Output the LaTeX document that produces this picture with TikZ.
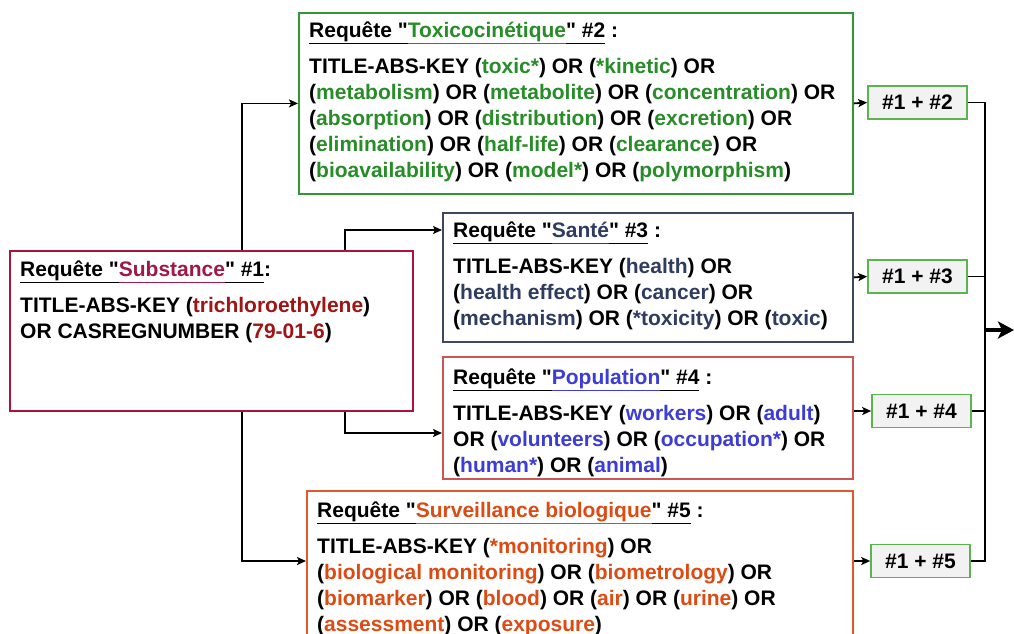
\documentclass[tikz,border=0pt]{standalone}
\usepackage{fontspec}
\setmainfont{Liberation Sans}[Ligatures=TeXOff]
\usetikzlibrary{arrows.meta}

\definecolor{grnT}{RGB}{40,140,40}
\definecolor{grnB}{RGB}{50,150,50}
\definecolor{subT}{RGB}{160,25,70}
\definecolor{subK}{RGB}{160,20,20}
\definecolor{subB}{RGB}{170,20,60}
\definecolor{sanT}{RGB}{45,60,95}
\definecolor{sanB}{RGB}{60,72,95}
\definecolor{popT}{RGB}{60,60,215}
\definecolor{popB}{RGB}{205,85,85}
\definecolor{surT}{RGB}{220,75,20}
\definecolor{surB}{RGB}{225,90,45}
\definecolor{resF}{RGB}{242,242,242}
\definecolor{resB}{RGB}{90,180,80}

% underline segments with a common depth
\newcommand\ulseg[1]{\underline{#1\vphantom{q}}}
\newcommand\reqtitle[3]{\ulseg{Requête "}\textcolor{#1}{\ulseg{#2}}\ulseg{" \##3}}
% a search keyword in parentheses
\newcommand\kwd[2]{(\textcolor{#1}{#2})}

\tikzset{
  qbox/.style={draw=#1, line width=1.8pt, fill=white, anchor=north west,
    inner sep=0pt, rectangle},
  qtext/.style={anchor=base west, inner sep=0pt,
    font=\fontsize{21}{26}\selectfont\bfseries},
  resbox/.style={draw=resB, fill=resF, line width=1.6pt, minimum width=99pt,
    minimum height=33pt, inner sep=0pt, font=\fontsize{21}{26}\selectfont\bfseries},
  conn/.style={line width=1.8pt, -{Stealth[length=9pt,width=8pt,inset=2pt]}},
  link/.style={line width=1.8pt},
  bigarrow/.style={line width=4pt, -{Stealth[length=16pt,width=17pt,inset=4pt]}}
}

\begin{document}
\begin{tikzpicture}[x=1pt,y=-1pt]
\useasboundingbox (0,0) rectangle (1014,633);
\clip (0,0) rectangle (1014,633);

% query boxes
\node[qbox=subB, minimum width=403pt, minimum height=160pt] (sub) at (9,250) {};
\node[qbox=grnB, minimum width=554pt, minimum height=181pt] (tox) at (298,12) {};
\node[qbox=sanB, minimum width=410pt, minimum height=129pt] (san) at (442,212) {};
\node[qbox=popB, minimum width=410pt, minimum height=122pt] (pop) at (442,356) {};
\node[qbox=surB, minimum width=546pt, minimum height=170pt] (sur) at (306,490) {};

% query texts
\node[qtext] (subtxt) at (20,276) {\begin{tabular}[t]{@{}l@{}}
\reqtitle{subT}{Substance}{1}:\\[10pt]
TITLE-ABS-KEY \kwd{subK}{trichloroethylene}\\
OR CASREGNUMBER \kwd{subK}{79-01-6}
\end{tabular}};

\node[qtext] (toxtxt) at (309,37) {\begin{tabular}[t]{@{}l@{}}
\reqtitle{grnT}{Toxicocinétique}{2} :\\[10pt]
TITLE-ABS-KEY \kwd{grnT}{toxic*} OR \kwd{grnT}{*kinetic} OR\\
\kwd{grnT}{metabolism} OR \kwd{grnT}{metabolite} OR \kwd{grnT}{concentration} OR\\
\kwd{grnT}{absorption} OR \kwd{grnT}{distribution} OR \kwd{grnT}{excretion} OR\\
\kwd{grnT}{elimination} OR \kwd{grnT}{half-life} OR \kwd{grnT}{clearance} OR\\
\kwd{grnT}{bioavailability} OR \kwd{grnT}{model*} OR \kwd{grnT}{polymorphism}
\end{tabular}};

\node[qtext] (santxt) at (453,237) {\begin{tabular}[t]{@{}l@{}}
\reqtitle{sanT}{Santé}{3} :\\[10pt]
TITLE-ABS-KEY \kwd{sanT}{health} OR\\
\kwd{sanT}{health effect} OR \kwd{sanT}{cancer} OR\\
\kwd{sanT}{mechanism} OR \kwd{sanT}{*toxicity} OR \kwd{sanT}{toxic}
\end{tabular}};

\node[qtext] (poptxt) at (453,384) {\begin{tabular}[t]{@{}l@{}}
\reqtitle{popT}{Population}{4} :\\[10pt]
TITLE-ABS-KEY \kwd{popT}{workers} OR \kwd{popT}{adult}\\
OR \kwd{popT}{volunteers} OR \kwd{popT}{occupation*} OR\\
\kwd{popT}{human*} OR \kwd{popT}{animal}
\end{tabular}};

\node[qtext] (surtxt) at (317,517) {\begin{tabular}[t]{@{}l@{}}
\reqtitle{surT}{Surveillance biologique}{5} :\\[10pt]
TITLE-ABS-KEY \kwd{surT}{*monitoring} OR\\
\kwd{surT}{biological monitoring} OR \kwd{surT}{biometrology} OR\\
\kwd{surT}{biomarker} OR \kwd{surT}{blood} OR \kwd{surT}{air} OR \kwd{surT}{urine} OR\\
\kwd{surT}{assessment} OR \kwd{surT}{exposure}
\end{tabular}};

% combined results
\node[resbox] (r2) at (917.5,102.5) {\#1 + \#2};
\node[resbox] (r3) at (917.5,276.5) {\#1 + \#3};
\node[resbox] (r4) at (921.5,411) {\#1 + \#4};
\node[resbox] (r5) at (920.5,561) {\#1 + \#5};

% branches from the substance query
\draw[conn] (sub.north west) ++(233,0) |- (tox.west);
\draw[conn] (sub.north west) ++(336,0) |- ([yshift=-18pt]san.north west);
\draw[conn] (sub.south west) ++(336,0) |- ([yshift=-77pt]pop.north west);
\draw[conn] (sub.south west) ++(233,0) |- ([yshift=-71pt]sur.north west);

% queries to combined results
\draw[conn] (tox.east) -- (r2.west);
\draw[conn] (san.east) -- (r3.west);
\draw[conn] (r4.west -| pop.east) -- (r4.west);
\draw[conn] (r5.west -| sur.east) -- (r5.west);

% collecting bus and output arrow
\coordinate (bus) at (985,330);
\coordinate (out) at (1014,330);
\draw[link] (r2.east) -| (bus);
\draw[link] (r5.east) -| (bus);
\draw[link] (r3.east) -- (r3.east -| bus);
\draw[link] (r4.east) -- (r4.east -| bus);
\draw[bigarrow] (bus) -- (out);
\end{tikzpicture}
\end{document}
